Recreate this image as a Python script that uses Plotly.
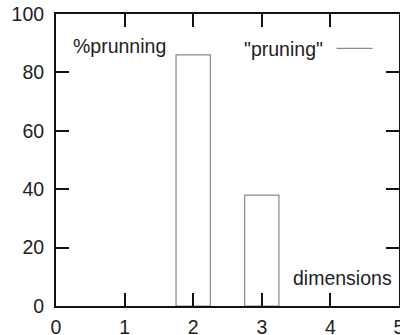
import plotly.graph_objects as go

dimensions = [2, 3]
pruning = [86, 38]
x_ticks = [0, 1, 2, 3, 4, 5]
y_ticks = [0, 20, 40, 60, 80, 100]

FONT = "Liberation Sans, Arial, Helvetica, sans-serif"
FS = 19.5

fig = go.Figure()
fig.add_trace(go.Bar(
    x=dimensions, y=pruning, width=0.5,
    marker=dict(color="white", line=dict(color="#8a8a8a", width=1.2)),
    showlegend=False, hoverinfo="skip",
))

axis_common = dict(
    showgrid=False, zeroline=False, showline=True, linecolor="#111", linewidth=2,
    mirror="allticks", ticks="inside", ticklen=13, tickwidth=2, tickcolor="#111",
    tickfont=dict(family=FONT, size=FS, color="#222"), automargin=False,
    ticklabeloverflow="allow",
)
fig.update_xaxes(range=[0, 5], tickmode="array", tickvals=x_ticks,
                 ticktext=[str(v) for v in x_ticks], ticklabelstandoff=3, **axis_common)
fig.update_yaxes(range=[0, 100], tickmode="array", tickvals=y_ticks,
                 ticktext=[str(v) for v in y_ticks], ticklabelstandoff=6, **axis_common)

fig.add_annotation(text="%prunning", xref="paper", yref="paper", x=0.043, y=0.891,
                   xanchor="left", yanchor="middle", showarrow=False,
                   font=dict(family=FONT, size=FS, color="#222"))
fig.add_annotation(text="dimensions", xref="paper", yref="paper", x=0.985, y=0.095,
                   xanchor="right", yanchor="middle", showarrow=False,
                   font=dict(family=FONT, size=FS, color="#222"))
fig.add_annotation(text='"pruning"', xref="paper", yref="paper", x=0.784, y=0.879,
                   xanchor="right", yanchor="middle", showarrow=False,
                   font=dict(family=FONT, size=FS, color="#222"))
fig.add_shape(type="line", xref="paper", yref="paper", x0=0.818, x1=0.923,
              y0=0.8825, y1=0.8825, line=dict(color="#8a8a8a", width=1.2))

fig.update_layout(
    width=400, height=335,
    margin=dict(l=56, r=1, t=14, b=29, pad=0),
    paper_bgcolor="white", plot_bgcolor="white",
    font=dict(family=FONT, size=FS, color="#222"),
)
fig.write_html("out.html", config={"displayModeBar": False},
               post_script="document.body.style.margin='0';document.body.style.overflow='hidden';")
